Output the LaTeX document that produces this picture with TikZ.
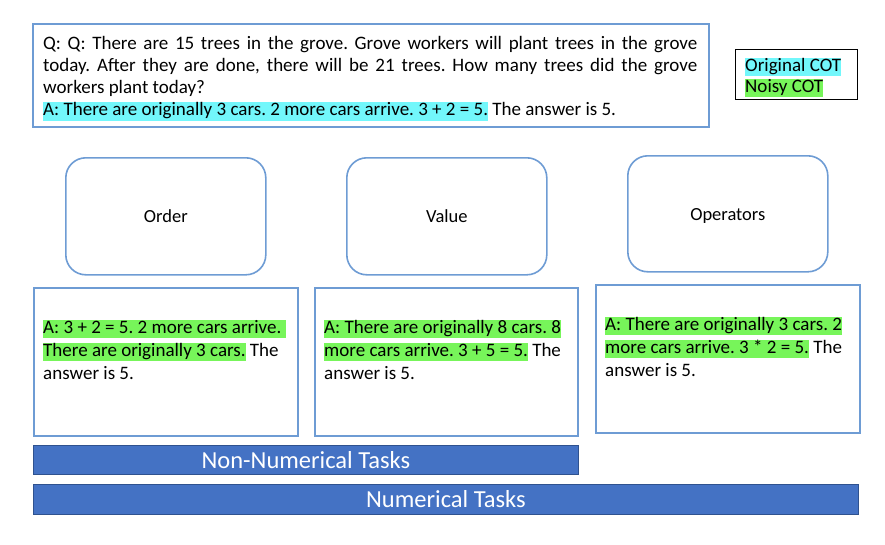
\documentclass[tikz,border=0pt]{standalone}
\usepackage{fontspec}
\setmainfont{Carlito}
\frenchspacing
\definecolor{hlcyan}{HTML}{72F7FB}
\definecolor{hlgreen}{HTML}{77F55A}
\definecolor{boxblue}{HTML}{6E9CD4}
\definecolor{barblue}{HTML}{4472C4}
\definecolor{bardark}{HTML}{2F528F}
\newcommand{\hlbox}[2]{{\setlength{\fboxsep}{0pt}\colorbox{#1}{\rule[-5pt]{0pt}{17pt}#2}}}
\tikzset{
  txt/.style={anchor=base west, inner sep=0pt, font=\fontsize{19}{22}\selectfont},
  frame/.style={draw=boxblue, line width=1.6pt, rectangle, anchor=north west, inner sep=0pt},
  rbox/.style={draw=boxblue, line width=1.6pt, rectangle, rounded corners=20pt, anchor=north west, inner sep=0pt},
  lbl/.style={font=\fontsize{18.5}{22}\selectfont, inner sep=0pt},
  bar/.style={fill=barblue, draw=bardark, line width=0.8pt, rectangle, anchor=north west, inner sep=0pt},
  bartext/.style={text=white, font=\fontsize{24.5}{28}\selectfont, inner sep=0pt},
}
\begin{document}
\begin{tikzpicture}[x=1pt,y=-1pt]
\useasboundingbox (0,0) rectangle (885,544);
% top question box
\node[frame, minimum width=676pt, minimum height=103pt] (qbox) at (32,23) {};
\node[txt] (q1) at (43,49) {\makebox[654pt][s]{Q: Q: There are 15 trees in the grove. Grove workers will plant trees in the grove}};
\node[txt] (q2) at (43,71) {\makebox[654pt][s]{today. After they are done, there will be 21 trees. How many trees did the grove}};
\node[txt] (q3) at (43,93) {workers plant today?};
\node[txt] (q4) at (43,115.5) {\hlbox{hlcyan}{A: There are originally 3 cars. 2 more cars arrive. 3 + 2 = 5.} The answer is 5.};
% legend
\node[draw=black, line width=1pt, rectangle, anchor=north west, inner sep=0pt, minimum width=122pt, minimum height=50pt] (legend) at (735,49) {};
\node[txt] (l1) at (745,71) {\hlbox{hlcyan}{Original COT}};
\node[txt] (l2) at (745,92) {\hlbox{hlgreen}{Noisy COT}};
% rounded category boxes
\node[rbox, minimum width=200pt, minimum height=117pt] (order) at (65,157) {};
\node[rbox, minimum width=200pt, minimum height=117pt] (value) at (346,157) {};
\node[rbox, minimum width=200pt, minimum height=116pt] (operators) at (627,155) {};
\node[lbl] (orderl) at (order.center) {Order};
\node[lbl] (valuel) at (value.center) {Value};
\node[lbl] (operatorsl) at ([yshift=-2pt]operators.center) {Operators};
% example boxes
\node[frame, minimum width=264pt, minimum height=148pt] (ex1) at (33,287) {};
\node[frame, minimum width=263pt, minimum height=148pt] (ex2) at (314,287) {};
\node[frame, minimum width=264pt, minimum height=148pt] (ex3) at (595,284) {};
\node[txt] (a1) at (43,333) {\hlbox{hlgreen}{A: 3 + 2 = 5. 2 more cars arrive. }};
\node[txt] (a2) at (43,356) {\hlbox{hlgreen}{There are originally 3 cars.} The};
\node[txt] (a3) at (43,379) {answer is 5.};
\node[txt] (b1) at (324,333) {\hlbox{hlgreen}{A: There are originally 8 cars. 8}};
\node[txt] (b2) at (324,356) {\hlbox{hlgreen}{more cars arrive. 3 + 5 = 5.} The};
\node[txt] (b3) at (324,379) {answer is 5.};
\node[txt] (c1) at (605,330) {\hlbox{hlgreen}{A: There are originally 3 cars. 2}};
\node[txt] (c2) at (605,353) {\hlbox{hlgreen}{more cars arrive. 3 * 2 = 5.} The};
\node[txt] (c3) at (605,376) {answer is 5.};
% bars
\node[bar, minimum width=545pt, minimum height=29pt] (nonnum) at (33,445) {};
\node[bartext] (nonnuml) at (nonnum.center) {Non-Numerical Tasks};
\node[bar, minimum width=825pt, minimum height=30pt] (num) at (33,484) {};
\node[bartext] (numl) at (num.center) {Numerical Tasks};
\end{tikzpicture}
\end{document}
